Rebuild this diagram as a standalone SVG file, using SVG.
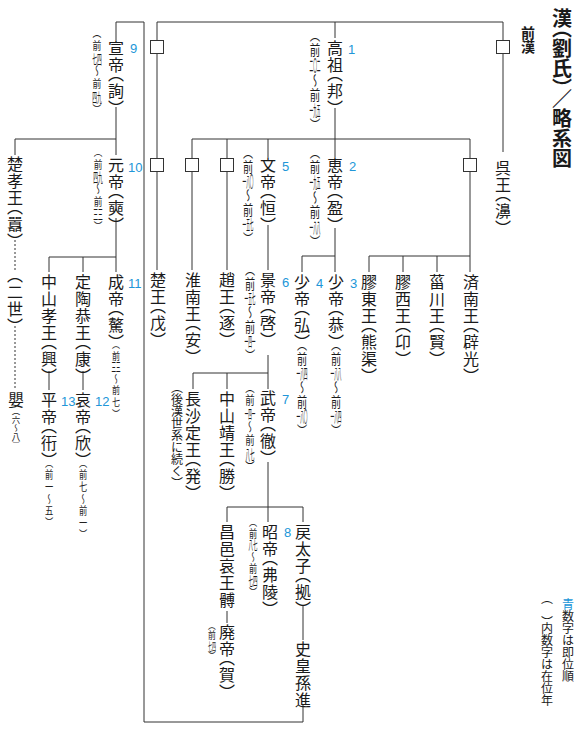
<svg xmlns="http://www.w3.org/2000/svg" width="580" height="733" viewBox="0 0 580 733">
<style>
.v{writing-mode:vertical-rl;font-family:"Noto Sans CJK JP","Noto Sans CJK SC",sans-serif;font-feature-settings:"vhal" 1;fill:#1a1a1a}
.n{font-size:16px;letter-spacing:1px}
.s{font-size:12px}
.g{font-family:"Noto Sans CJK JP","Noto Sans CJK SC",sans-serif;text-anchor:middle;fill:#1a1a1a}
.b{font-family:"Liberation Sans",Arial,sans-serif;font-size:13px;fill:#2196d8}
.l{fill:none;stroke:#333;stroke-width:1}
.sq{fill:#fff;stroke:#333;stroke-width:1}
.dot{fill:none;stroke:#333;stroke-width:1;stroke-dasharray:2 2}
</style>
<rect width="580" height="733" fill="#fff"/>
<g id="connectors">
<path class="l" d="M116,40 V22 H144 V722 H303 V705"/>
<path class="l" d="M157,22 H503 M157,22 V270 M335,22 V38 M503,22 V152"/>
<path class="l" d="M335,108 V157 M192,139 H470 M192,139 V270 M227,139 V270 M268,139 V157 M470,139 V272"/>
<path class="l" d="M335,228 V272 M302,256 H335 M302,256 V272 M369,256 H470 M369,256 V272 M403,256 V272 M437,256 V272"/>
<path class="l" d="M268,225 V270 M268,355 V389 M193,373 H268 M193,373 V389 M227,373 V389"/>
<path class="l" d="M268,462 V522 M227,507 H303 M227,507 V522 M303,507 V522 M227,611 V623 M303,605 V640"/>
<path class="l" d="M116,107 V155 M15,139 H116 M15,139 V155 M116,218 V272 M49,257 H116 M49,257 V272 M83,257 V272 M83,371 V390 M49,371 V390"/>
<path class="dot" d="M15,240 V270 M15,326 V390"/>
<rect class="sq" x="150.5" y="40.5" width="13" height="13"/>
<rect class="sq" x="496.5" y="40.5" width="13" height="13"/>
<rect class="sq" x="150.5" y="158.5" width="13" height="13"/>
<rect class="sq" x="185.5" y="158.5" width="13" height="13"/>
<rect class="sq" x="220.5" y="158.5" width="13" height="13"/>
<rect class="sq" x="463.5" y="158.5" width="13" height="13"/>
</g>
<g id="title"><text class="v" x="562" y="8" font-size="20" font-weight="bold">漢（劉氏）／略系図</text>
<text class="v" x="528" y="26" font-size="14" font-weight="bold">前漢</text></g>

<g id="gaozu"><text class="v n" x="335" y="40">高祖（邦）</text><text class="b" x="348" y="54">1</text>
<text class="v" transform="translate(315 35) scale(.75 1)" font-size="14" letter-spacing="1">（前</text>
<text class="g" transform="translate(315 70.7) scale(.244 1)" font-size="15">二〇二</text>
<text class="v" transform="translate(315 72.5) scale(.75 1)" font-size="14" letter-spacing="1">～前</text>
<text class="g" transform="translate(315 115.7) scale(.244 1)" font-size="15">一九五</text>
<text class="v" transform="translate(315 117.5) scale(.75 1)" font-size="14">）</text></g>

<g id="wu-wang"><text class="v n" x="503" y="160">呉王（濞）</text></g>

<g id="huidi"><text class="v n" x="335" y="157">恵帝（盈）</text><text class="b" x="349" y="171">2</text>
<text class="v" transform="translate(315 152) scale(.75 1)" font-size="14" letter-spacing="1">（前</text>
<text class="g" transform="translate(315 187.7) scale(.244 1)" font-size="15">一九五</text>
<text class="v" transform="translate(315 189.5) scale(.75 1)" font-size="14" letter-spacing="1">～前</text>
<text class="g" transform="translate(315 232.7) scale(.244 1)" font-size="15">一八八</text>
<text class="v" transform="translate(315 234.5) scale(.75 1)" font-size="14">）</text></g>

<g id="wendi"><text class="v n" x="268" y="157">文帝（恒）</text><text class="b" x="282" y="171">5</text>
<text class="v" transform="translate(248 152) scale(.75 1)" font-size="13.5" letter-spacing="1">（前</text>
<text class="g" transform="translate(248 186.5) scale(.253 1)" font-size="14.5">一八〇</text>
<text class="v" transform="translate(248 188.25) scale(.75 1)" font-size="13.5" letter-spacing="1">～前</text>
<text class="g" transform="translate(248 230) scale(.253 1)" font-size="14.5">一五七</text>
<text class="v" transform="translate(248 231.75) scale(.75 1)" font-size="13.5">）</text></g>

<g id="jingdi"><text class="v n" x="268" y="272">景帝（啓）</text><text class="b" x="282" y="287">6</text>
<text class="v" transform="translate(250 269) scale(.75 1)" font-size="13.5" letter-spacing="1">（前</text>
<text class="g" transform="translate(250 303.5) scale(.253 1)" font-size="14.5">一五七</text>
<text class="v" transform="translate(250 305.25) scale(.75 1)" font-size="13.5" letter-spacing="1">～前</text>
<text class="g" transform="translate(250 347) scale(.253 1)" font-size="14.5">一四一</text>
<text class="v" transform="translate(250 348.75) scale(.75 1)" font-size="13.5">）</text></g>

<g id="wudi"><text class="v n" x="268" y="390">武帝（徹）</text><text class="b" x="282" y="404">7</text>
<text class="v" transform="translate(250 387) scale(.75 1)" font-size="12.5" letter-spacing="1">（前</text>
<text class="g" transform="translate(250 419.1) scale(.259 1)" font-size="13.5">一四一</text>
<text class="v" transform="translate(250 420.75) scale(.75 1)" font-size="12.5" letter-spacing="1">～前</text>
<text class="g" transform="translate(250 459.6) scale(.333 1)" font-size="13.5">八七</text>
<text class="v" transform="translate(250 461.25) scale(.75 1)" font-size="12.5">）</text></g>

<g id="shaodi-gong"><text class="v n" x="336" y="274">少帝（恭）</text><text class="b" x="350" y="288">3</text>
<text class="v" transform="translate(336 344) scale(.75 1)" font-size="13.5" letter-spacing="1">（前</text>
<text class="g" transform="translate(336 378.5) scale(.253 1)" font-size="14.5">一八八</text>
<text class="v" transform="translate(336 380.25) scale(.75 1)" font-size="13.5" letter-spacing="1">～前</text>
<text class="g" transform="translate(336 422) scale(.253 1)" font-size="14.5">一八四</text>
<text class="v" transform="translate(336 423.75) scale(.75 1)" font-size="13.5">）</text></g>

<g id="shaodi-hong"><text class="v n" x="302" y="274">少帝（弘）</text><text class="b" x="316" y="288">4</text>
<text class="v" transform="translate(302 344) scale(.75 1)" font-size="13.5" letter-spacing="1">（前</text>
<text class="g" transform="translate(302 378.5) scale(.253 1)" font-size="14.5">一八四</text>
<text class="v" transform="translate(302 380.25) scale(.75 1)" font-size="13.5" letter-spacing="1">～前</text>
<text class="g" transform="translate(302 422) scale(.253 1)" font-size="14.5">一八〇</text>
<text class="v" transform="translate(302 423.75) scale(.75 1)" font-size="13.5">）</text></g>

<g id="jiaodong"><text class="v n" x="369" y="274">膠東王（熊渠）</text></g>
<g id="jiaoxi"><text class="v n" x="403" y="274">膠西王（卬）</text></g>
<g id="zichuan"><text class="v n" x="437" y="274">菑川王（賢）</text></g>
<g id="jinan"><text class="v n" x="471" y="274">済南王（辟光）</text></g>
<g id="chu-wang"><text class="v n" x="158" y="272">楚王（戊）</text></g>
<g id="huainan"><text class="v n" x="193" y="272">淮南王（安）</text></g>
<g id="zhao-wang"><text class="v n" x="227" y="272">趙王（逐）</text></g>
<g id="changsha"><text class="v n" x="193" y="391">長沙定王（発）</text>
<text class="v s" x="177" y="387">（後漢世系に続く）</text></g>
<g id="zhongshan-jing"><text class="v n" x="227" y="391">中山靖王（勝）</text></g>
<g id="changyi"><text class="v n" x="227" y="524">昌邑哀王髆</text></g>

<g id="feidi"><text class="v n" x="227" y="624">廃帝（賀）</text>
<text class="v" transform="translate(212 625) scale(.8 1)" font-size="9.7" letter-spacing="1">（前</text>
<text class="g" transform="translate(212 650.6) scale(.364 1)" font-size="11">七四</text>
<text class="v" transform="translate(212 651.75) scale(.8 1)" font-size="9.7">）</text></g>

<g id="zhaodi"><text class="v n" x="270" y="524">昭帝（弗陵）</text><text class="b" x="284" y="537">8</text>
<text class="v" transform="translate(253 522) scale(.75 1)" font-size="10.8" letter-spacing="1">（前</text>
<text class="g" transform="translate(253 550.3) scale(.36 1)" font-size="12.5">八七</text>
<text class="v" transform="translate(253 551.5) scale(.75 1)" font-size="10.8" letter-spacing="1">～前</text>
<text class="g" transform="translate(253 585.7) scale(.36 1)" font-size="12.5">七四</text>
<text class="v" transform="translate(253 587.9) scale(.75 1)" font-size="10.8">）</text></g>

<g id="li-taizi"><text class="v n" x="303" y="524">戻太子（拠）</text></g>
<g id="shi-huangsun"><text class="v n" x="303" y="641">史皇孫進</text></g>

<g id="xuandi"><text class="v n" x="116" y="40">宣帝（詢）</text><text class="b" x="130" y="53">9</text>
<text class="v" transform="translate(97 33) scale(.75 1)" font-size="11.8" letter-spacing="1">（前</text>
<text class="g" transform="translate(97 63.5) scale(.365 1)" font-size="13">七四</text>
<text class="v" transform="translate(97 65) scale(.75 1)" font-size="11.8" letter-spacing="1">～前</text>
<text class="g" transform="translate(97 101.9) scale(.365 1)" font-size="13">四九</text>
<text class="v" transform="translate(97 103.4) scale(.75 1)" font-size="11.8">）</text></g>

<g id="yuandi"><text class="v n" x="116" y="157">元帝（奭）</text><text class="b" x="128" y="172">10</text>
<text class="v" transform="translate(98 152) scale(.75 1)" font-size="11.5" letter-spacing="1">（前</text>
<text class="g" transform="translate(98 181.9) scale(.371 1)" font-size="12.8">四九</text>
<text class="v" transform="translate(98 183.25) scale(.75 1)" font-size="11.5" letter-spacing="1">～前</text>
<text class="g" transform="translate(98 219.4) scale(.371 1)" font-size="12.8">三三</text>
<text class="v" transform="translate(98 220.75) scale(.75 1)" font-size="11.5">）</text></g>

<g id="chu-xiao"><text class="v n" x="15" y="156">楚孝王（囂）</text>
<text class="v n" x="15" y="275">（二世）</text></g>
<g id="ying"><text class="v n" x="16" y="392">嬰</text>
<text class="v" x="16" y="411" font-size="8.5">（六～八）</text></g>

<g id="chengdi"><text class="v n" x="116" y="274">成帝（驁）</text><text class="b" x="128" y="288">11</text>
<text class="v" transform="translate(116 344) scale(.75 1)" font-size="10.7" letter-spacing="1">（前</text>
<text class="g" transform="translate(116 372.1) scale(.366 1)" font-size="12.3">三三</text>
<text class="v" transform="translate(116 373.25) scale(.75 1)" font-size="10.7" letter-spacing="1">～前七）</text></g>

<g id="dingtao"><text class="v n" x="83" y="274">定陶恭王（康）</text></g>
<g id="aidi"><text class="v n" x="83" y="392">哀帝（欣）</text><text class="b" x="95" y="406">12</text>
<text class="v" transform="translate(83 463) scale(.75 1)" font-size="11" letter-spacing="1">（前七～前一）</text></g>
<g id="zhongshan-xiao"><text class="v n" x="49" y="274">中山孝王（興）</text></g>
<g id="pingdi"><text class="v n" x="49" y="392">平帝（衎）</text><text class="b" x="61" y="406">13</text>
<text class="v" transform="translate(49 463) scale(.75 1)" font-size="11" letter-spacing="1">（前一～五）</text></g>

<g id="legend"><text class="v" x="568" y="598" font-size="12"><tspan fill="#2196d8">青</tspan>数字は即位順</text>
<text class="v" x="547" y="598" font-size="12">（　）内数字は在位年</text></g>
</svg>
